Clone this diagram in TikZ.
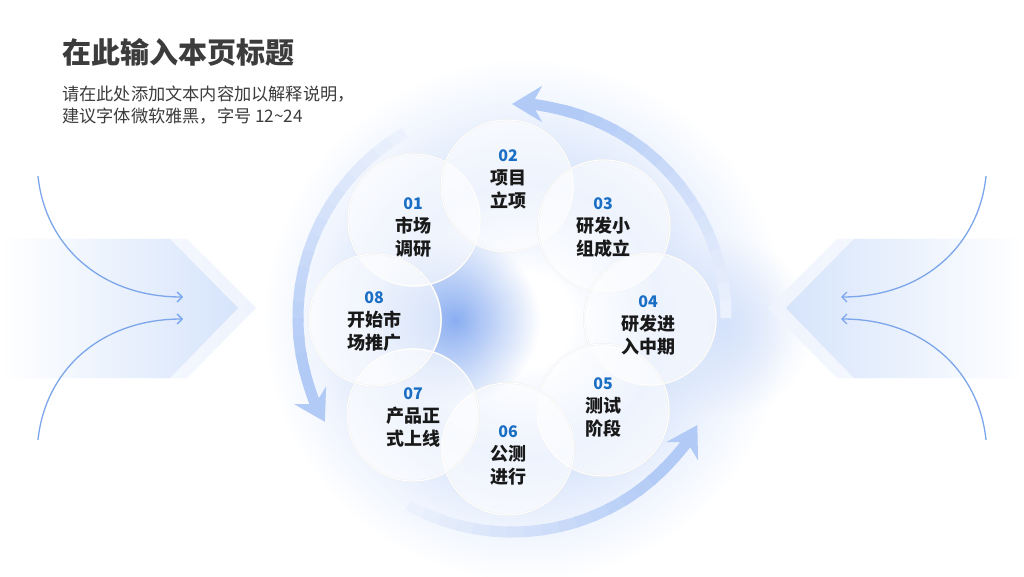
\documentclass[tikz,border=0pt]{standalone}
\usepackage{fontspec}
\setmainfont{Noto Sans CJK SC}
\usepackage{tikz}
\usetikzlibrary{arrows.meta,calc,fadings}

\definecolor{titlegray}{HTML}{3C3C3C}
\definecolor{numblue}{HTML}{1A6FC4}
\definecolor{arcblue}{HTML}{B2CAF6}
\definecolor{glowblue}{HTML}{D4E2FB}
\definecolor{blobblue}{HTML}{7FA6F0}
\definecolor{chevblue}{HTML}{D6E4FB}
\definecolor{chevlight}{HTML}{EEF3FD}
\definecolor{thinblue}{HTML}{7CA6EC}

\tikzfading[name=softfade, inner color=transparent!0, outer color=transparent!100]
\pgfdeclareradialshading{ringglow}{\pgfpoint{0bp}{0bp}}{color(0bp)=(white); color(4.5bp)=(white); color(13bp)=(glowblue); color(19bp)=(glowblue!45!white); color(25bp)=(white); color(50bp)=(white)}

\newcommand{\stepnum}[1]{{\color{numblue}\fontsize{16}{18}\selectfont #1}\\}

\begin{document}
\begin{tikzpicture}[x=1pt, y=1pt,
    ringcircle/.style={circle, minimum size=132pt, inner sep=0pt, fill=white, fill opacity=0.6,
        draw=black!7, double=white, double distance=1pt, line width=0.4pt},
    steptext/.style={align=center, inner sep=0pt, font=\fontsize{18}{23}\selectfont\bfseries, text=black!90},
    bigarc/.style={line width=11pt},
    thin_arrow/.style={draw=thinblue, line width=1.3pt, -{Straight Barb[length=5pt, width=10pt]}}
]
    \useasboundingbox (0,0) rectangle (1024,576);
    \fill[white] (0,0) rectangle (1024,576);

    % --- background glow ---
    \coordinate (hub) at (512,258);
    \shade[shading=ringglow] (525,256) circle (262);
    \fill[blobblue, path fading=softfade, opacity=0.9] (455,256) circle (85);
    \fill[glowblue, path fading=softfade] (722,250) circle (90);

    % --- side chevrons ---
    \shade[left color=white, right color=chevlight] (0,337) -- (187,337) -- (256,268) -- (187,198) -- (0,198) -- cycle;
    \shade[left color=white, right color=chevblue] (0,337) -- (170,337) -- (238,268) -- (170,198) -- (0,198) -- cycle;
    \shade[right color=white, left color=chevlight] (1024,337) -- (837,337) -- (768,268) -- (837,198) -- (1024,198) -- cycle;
    \shade[right color=white, left color=chevblue] (1024,337) -- (854,337) -- (786,268) -- (854,198) -- (1024,198) -- cycle;

    % --- thin arrows ---
    \coordinate (lt) at (38,400);
    \coordinate (lb) at (38,136);
    \coordinate (lte) at (183,279);
    \coordinate (lbe) at (183,257);
    \coordinate (rt) at (986,400);
    \coordinate (rb) at (986,136);
    \coordinate (rte) at (841,279);
    \coordinate (rbe) at (841,257);
    \draw[thin_arrow] (lt) .. controls (45,331) and (100,279) .. (lte);
    \draw[thin_arrow] (lb) .. controls (45,205) and (100,257) .. (lbe);
    \draw[thin_arrow] (rt) .. controls (979,331) and (924,279) .. (rte);
    \draw[thin_arrow] (rb) .. controls (979,205) and (924,257) .. (rbe);

    % --- big arcs (fading tails) ---
    \foreach \s/\e in {0/90, 120/209, 241/330} {
        \foreach \k in {0,...,15} {
            \pgfmathsetmacro\aa{\s+(\e-\s-15)*\k/16}
            \pgfmathsetmacro\bb{\s+(\e-\s-15)*(\k+1)/16+1}
            \pgfmathsetmacro\pc{25+75*\k/15}
            \draw[bigarc, arcblue!\pc!white] ($(hub)+(\aa:214)$) arc[start angle=\aa, end angle=\bb, radius=214];
        }
        \draw[bigarc, arcblue, -{Stealth[length=30pt, width=36pt, inset=10pt]}]
            ($(hub)+(\e-16:214)$) arc[start angle=\e-16, end angle=\e, radius=214];
    }

    % --- circles ---
    \node[ringcircle] (ring1) at (414,356) {};
    \node[ringcircle] (ring2) at (507,390) {};
    \node[ringcircle] (ring3) at (604,350) {};
    \node[ringcircle] (ring4) at (650,257) {};
    \node[ringcircle] (ring5) at (603,166) {};
    \node[ringcircle] (ring6) at (508,127) {};
    \node[ringcircle] (ring7) at (413,161) {};
    \node[ringcircle] (ring8) at (375,256) {};

    % --- step texts ---
    \node[steptext] (step1) at (413,348) {\stepnum{01}市场\\调研};
    \node[steptext] (step2) at (508,397) {\stepnum{02}项目\\立项};
    \node[steptext] (step3) at (603,348) {\stepnum{03}研发小\\组成立};
    \node[steptext] (step4) at (648,251) {\stepnum{04}研发进\\入中期};
    \node[steptext] (step5) at (603,169) {\stepnum{05}测试\\阶段};
    \node[steptext] (step6) at (508,121) {\stepnum{06}公测\\进行};
    \node[steptext] (step7) at (413,159) {\stepnum{07}产品正\\式上线};
    \node[steptext] (step8) at (374,254) {\stepnum{08}开始市\\场推广};

    % --- title ---
    \node[anchor=west, inner sep=0pt, font=\fontsize{29}{34}\selectfont\bfseries, text=titlegray] (title) at (62,524) {在此输入本页标题};
    \node[anchor=north west, inner sep=0pt, align=left, font=\fontsize{17.2}{22}\selectfont, text=titlegray] (subtitle) at (62,490)
        {请在此处添加文本内容加以解释说明，\\建议字体微软雅黑，字号 12\textasciitilde24};
\end{tikzpicture}
\end{document}
